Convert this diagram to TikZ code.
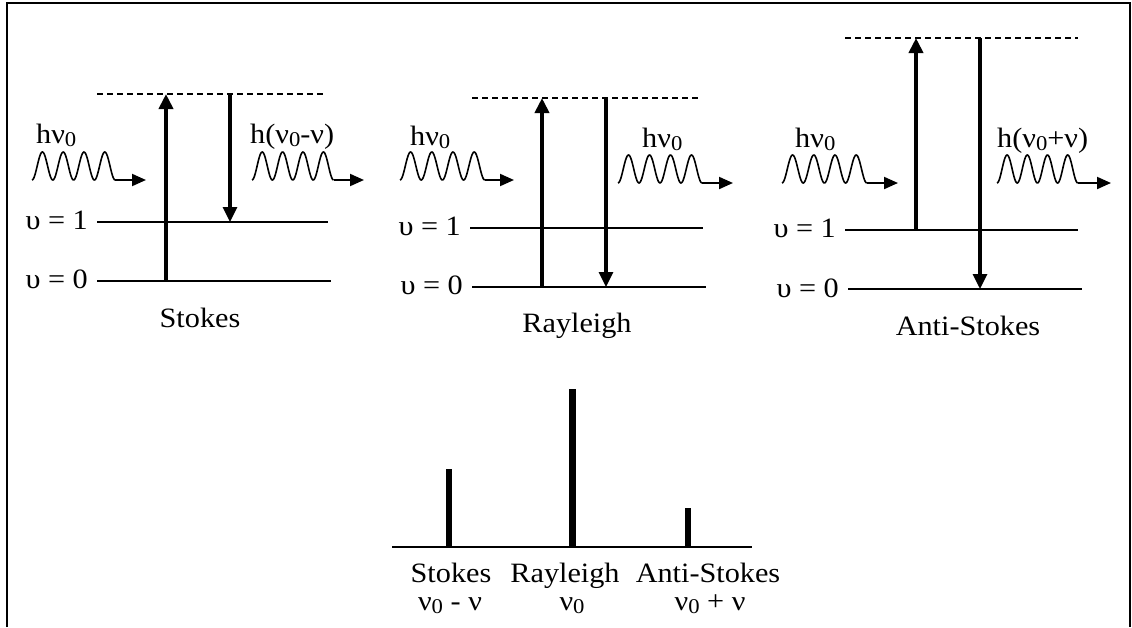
\documentclass[tikz,border=0pt]{standalone}
\usepackage{fontspec}
\setmainfont{Liberation Serif}[FakeStretch=1.08]
\usetikzlibrary{arrows.meta}
\newcommand{\zsub}{\raisebox{-0.3ex}{\fontsize{21}{21}\selectfont 0}}
\newcommand{\photonwave}[5]{% #1 name, #2 x0, #3 y base, #4 hump width, #5 tip x
  \draw[photon] plot[domain=0:4, samples=120, smooth] ({#2+#4*\x},{#3-14*(1-cos(360*\x))});
  \coordinate (#1-s) at ({#2+4*#4},#3);
  \coordinate (#1-e) at (#5,#3);
  \draw[phar] (#1-s) -- (#1-e);}
\begin{document}
\begin{tikzpicture}[x=1pt,y=-1pt,
  lvl/.style={line width=1.8pt},
  virt/.style={line width=1.5pt, dash pattern=on 6pt off 4pt},
  upar/.style={line width=4pt, -{Triangle[length=15pt,width=14pt]}},
  dnar/.style={line width=3.2pt, -{Triangle[length=15pt,width=14pt]}},
  photon/.style={line width=1.6pt},
  phar/.style={line width=2pt, -{Triangle[length=14pt,width=12pt]}},
  txt/.style={font=\fontsize{28}{32}\selectfont, inner sep=0pt},
  bar/.style={line width=#1},
  frame/.style={line width=2.4pt}]
\useasboundingbox (0,0) rectangle (1132,627);
\draw[frame] (7,627) -- (7,3) -- (1130,3) -- (1130,627);

% ---------- Stokes ----------
\coordinate (s-v-l) at (97,94);  \coordinate (s-v-r) at (323,94);
\coordinate (s-1-l) at (97,222); \coordinate (s-1-r) at (328,222);
\coordinate (s-0-l) at (97,281); \coordinate (s-0-r) at (331,281);
\coordinate (s-up0) at (166,281); \coordinate (s-up1) at (166,94);
\coordinate (s-dn0) at (230,94);  \coordinate (s-dn1) at (230,222);
\draw[virt] (s-v-l) -- (s-v-r);
\draw[lvl] (s-1-l) -- (s-1-r);
\draw[lvl] (s-0-l) -- (s-0-r);
\draw[upar] (s-up0) -- (s-up1);
\draw[dnar] (s-dn0) -- (s-dn1);
\node[txt, anchor=base east] (s-l1) at (88,229) {υ = 1};
\node[txt, anchor=base east] (s-l0) at (88,288) {υ = 0};
\node[txt, anchor=base west] (s-in) at (36,143) {hν\zsub};
\node[txt, anchor=base west] (s-out) at (250,143) {h(ν\zsub-ν)};
\node[txt, anchor=base] (s-title) at (200,327) {Stokes};
\photonwave{s-w1}{32}{180}{20.8}{146}
\photonwave{s-w2}{252}{180}{20.4}{364}

% ---------- Rayleigh ----------
\coordinate (r-v-l) at (472,98);  \coordinate (r-v-r) at (698,98);
\coordinate (r-1-l) at (470,228); \coordinate (r-1-r) at (703,228);
\coordinate (r-0-l) at (472,287); \coordinate (r-0-r) at (706,287);
\coordinate (r-up0) at (542,287); \coordinate (r-up1) at (542,98);
\coordinate (r-dn0) at (606,98);  \coordinate (r-dn1) at (606,287);
\draw[virt] (r-v-l) -- (r-v-r);
\draw[lvl] (r-1-l) -- (r-1-r);
\draw[lvl] (r-0-l) -- (r-0-r);
\draw[upar] (r-up0) -- (r-up1);
\draw[dnar] (r-dn0) -- (r-dn1);
\node[txt, anchor=base east] (r-l1) at (461,235) {υ = 1};
\node[txt, anchor=base east] (r-l0) at (463,294) {υ = 0};
\node[txt, anchor=base west] (r-in) at (410,145) {hν\zsub};
\node[txt, anchor=base west] (r-out) at (642,147) {hν\zsub};
\node[txt, anchor=base] (r-title) at (577,332) {Rayleigh};
\photonwave{r-w1}{400}{180}{21.2}{514}
\photonwave{r-w2}{618}{183}{21}{733}

% ---------- Anti-Stokes ----------
\coordinate (a-v-l) at (845,38);  \coordinate (a-v-r) at (1078,38);
\coordinate (a-1-l) at (845,230); \coordinate (a-1-r) at (1078,230);
\coordinate (a-0-l) at (848,289); \coordinate (a-0-r) at (1082,289);
\coordinate (a-up0) at (916,230); \coordinate (a-up1) at (916,38);
\coordinate (a-dn0) at (980,38);  \coordinate (a-dn1) at (980,289);
\draw[virt] (a-v-l) -- (a-v-r);
\draw[lvl] (a-1-l) -- (a-1-r);
\draw[lvl] (a-0-l) -- (a-0-r);
\draw[upar] (a-up0) -- (a-up1);
\draw[dnar] (a-dn0) -- (a-dn1);
\node[txt, anchor=base east] (a-l1) at (836,237) {υ = 1};
\node[txt, anchor=base east] (a-l0) at (839,297) {υ = 0};
\node[txt, anchor=base west] (a-in) at (795,147) {hν\zsub};
\node[txt, anchor=base west] (a-out) at (997,147) {h(ν\zsub+ν)};
\node[txt, anchor=base] (a-title) at (968,335) {Anti-Stokes};
\photonwave{a-w1}{782}{183}{21.2}{898}
\photonwave{a-w2}{997}{183}{20.2}{1111}

% ---------- Spectrum ----------
\coordinate (sp-l) at (392,547); \coordinate (sp-r) at (752,547);
\draw[lvl] (sp-l) -- (sp-r);
\coordinate (b1-0) at (449,547); \coordinate (b1-1) at (449,469);
\coordinate (b2-0) at (572,547); \coordinate (b2-1) at (572,389);
\coordinate (b3-0) at (688,547); \coordinate (b3-1) at (688,508);
\draw[bar=6.5pt] (b1-0) -- (b1-1);
\draw[bar=7pt] (b2-0) -- (b2-1);
\draw[bar=5.5pt] (b3-0) -- (b3-1);
\node[txt, anchor=base] (t1) at (451,582) {Stokes};
\node[txt, anchor=base] (t2) at (565,582) {Rayleigh};
\node[txt, anchor=base] (t3) at (708,582) {Anti-Stokes};
\node[txt, anchor=base] (f1) at (450,610) {ν\zsub{} - ν};
\node[txt, anchor=base] (f2) at (572,610) {ν\zsub};
\node[txt, anchor=base] (f3) at (710,610) {ν\zsub{} + ν};
\end{tikzpicture}
\end{document}
